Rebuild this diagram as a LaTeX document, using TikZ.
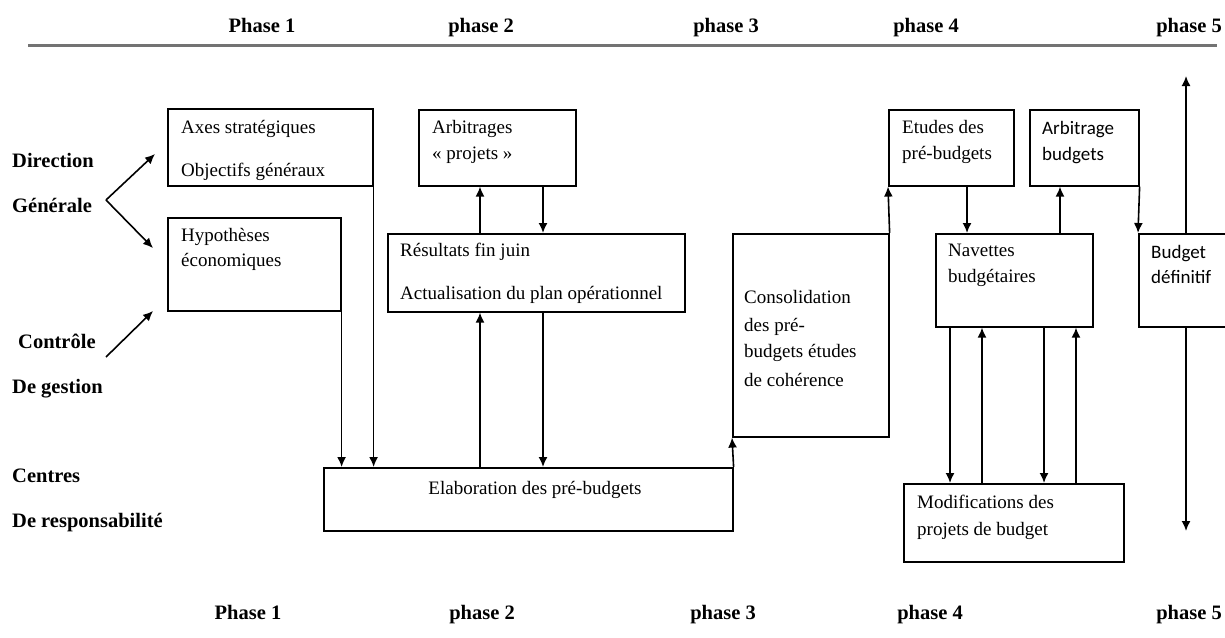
\documentclass[tikz,border=0pt]{standalone}
\usepackage{fontspec}
\setmainfont{Liberation Serif}
\newfontfamily\calib{Carlito}
\usetikzlibrary{arrows.meta}
\begin{document}
\begin{tikzpicture}[x=1pt,y=-1pt,
  box/.style={draw, line width=1.6pt, anchor=north west, inner sep=0pt},
  txt/.style={anchor=base west, inner sep=0pt, font=\fontsize{19}{22}\selectfont},
  sans/.style={txt, font=\calib\fontsize{19}{22}\selectfont},
  lbl/.style={anchor=base west, inner sep=0pt, font=\bfseries\fontsize{20.5}{24}\selectfont},
  phase/.style={anchor=base, inner sep=0pt, font=\bfseries\fontsize{20.5}{24}\selectfont},
  arr/.style={line width=1.6pt, -{Latex[length=10pt,width=9pt]}}]
\useasboundingbox (0,0) rectangle (1225,637);

% phase headings and rule
\node[phase] (p1t) at (262,32) {Phase 1};
\node[phase] (p2t) at (481,32) {phase 2};
\node[phase] (p3t) at (726,32) {phase 3};
\node[phase] (p4t) at (926,32) {phase 4};
\node[phase] (p5t) at (1189,32) {phase 5};
\draw[line width=3pt, black!55] (28,45) -- (1217,45);

\node[phase] (p1b) at (248,619) {Phase 1};
\node[phase] (p2b) at (482,619) {phase 2};
\node[phase] (p3b) at (723,619) {phase 3};
\node[phase] (p4b) at (930,619) {phase 4};
\node[phase] (p5b) at (1189,619) {phase 5};

% actors
\node[lbl] (dir) at (12,167) {Direction};
\node[lbl] (gen) at (12,212) {Générale};
\node[lbl] (ctl) at (18,348) {Contrôle};
\node[lbl] (gest) at (12,393) {De gestion};
\node[lbl] (cen) at (12,482) {Centres};
\node[lbl] (resp) at (12,527) {De responsabilité};

% boxes
\node[box, minimum width=205pt, minimum height=77pt] (axes) at (167,108) {};
\node[box, minimum width=173pt, minimum height=93pt] (hyp) at (167,217) {};
\node[box, minimum width=157pt, minimum height=76pt] (arb) at (418,109) {};
\node[box, minimum width=297pt, minimum height=78pt] (res) at (387,233) {};
\node[box, minimum width=156pt, minimum height=203pt] (cons) at (732,233) {};
\node[box, minimum width=409pt, minimum height=63pt] (elab) at (323,467) {};
\node[box, minimum width=125pt, minimum height=76pt] (etu) at (888,109) {};
\node[box, minimum width=109pt, minimum height=76pt] (arbb) at (1029,109) {};
\node[box, minimum width=157pt, minimum height=93pt] (nav) at (935,233) {};
\node[box, minimum width=92pt, minimum height=93pt] (bud) at (1138,233) {};
\node[box, minimum width=220pt, minimum height=78pt] (mod) at (903,483) {};

% box texts
\node[txt] (axes1) at (181,133) {Axes stratégiques};
\node[txt] (axes2) at (181,176) {Objectifs généraux};
\node[txt] (hyp1) at (181,241) {Hypothèses};
\node[txt] (hyp2) at (181,266) {économiques};
\node[txt] (arb1) at (432,133) {Arbitrages};
\node[txt] (arb2) at (432,159) {« projets »};
\node[txt] (res1) at (400,256) {Résultats fin juin};
\node[txt] (res2) at (400,299) {Actualisation du plan opérationnel};
\node[txt] (cons1) at (744,303) {Consolidation};
\node[txt] (cons2) at (744,331) {des pré-};
\node[txt] (cons3) at (744,357) {budgets études};
\node[txt] (cons4) at (744,386) {de cohérence};
\node[txt, anchor=base] (elab1) at (535,494) {Elaboration des pré-budgets};
\node[txt] (etu1) at (902,133) {Etudes des};
\node[txt] (etu2) at (902,159) {pré-budgets};
\node[sans] (arbb1) at (1042,134) {Arbitrage};
\node[sans] (arbb2) at (1042,160) {budgets};
\node[txt] (nav1) at (948,256) {Navettes};
\node[txt] (nav2) at (948,282) {budgétaires};
\node[sans] (bud1) at (1151,258) {Budget};
\node[sans] (bud2) at (1151,283) {définitif};
\node[txt] (mod1) at (917,508) {Modifications des};
\node[txt] (mod2) at (917,535) {projets de budget};

% actor arrows
\coordinate (dg) at (106,200);
\coordinate (cg) at (106,357);
\draw[arr] (dg) -- (155,154);
\draw[arr] (dg) -- (153,248);
\draw[arr] (cg) -- (153,311);

% phase 1 -> 2
\draw[arr] (axes.south east) -- (axes.south east |- elab.north);
\draw[arr] (hyp.south east) -- (hyp.south east |- elab.north);

% phase 2 exchanges
\draw[arr] (480,0 |- res.north) -- (480,0 |- arb.south);
\draw[arr] (543,0 |- arb.south) -- (543,0 |- res.north);
\draw[arr] (480,0 |- elab.north) -- (480,0 |- res.south);
\draw[arr] (543,0 |- res.south) -- (543,0 |- elab.north);

% phase 3
\draw[arr] (elab.north east) -- (cons.south west);
\draw[arr] (cons.north east) -- (etu.south west);

% phase 4
\draw[arr] (967,0 |- etu.south) -- (967,0 |- nav.north);
\draw[arr] (1060,0 |- nav.north) -- (1060,0 |- arbb.south);
\draw[arr] (950,0 |- nav.south) -- (950,0 |- mod.north);
\draw[arr] (982,0 |- mod.north) -- (982,0 |- nav.south);
\draw[arr] (1044,0 |- nav.south) -- (1044,0 |- mod.north);
\draw[arr] (1076,0 |- mod.north) -- (1076,0 |- nav.south);

% phase 5
\draw[arr] (arbb.south east) -- (bud.north west);
\coordinate (up5) at (1186,76);
\coordinate (down5) at (1186,531);
\draw[arr] (1186,0 |- bud.north) -- (up5);
\draw[arr] (1186,0 |- bud.south) -- (down5);
\end{tikzpicture}
\end{document}
